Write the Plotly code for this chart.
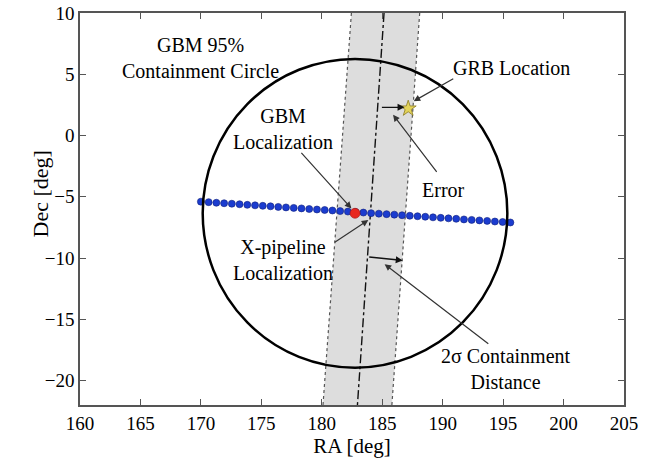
import plotly.graph_objects as go

# ---- data ----
scan_ra = [170.00, 170.64, 171.28, 171.92, 172.56, 173.20, 173.84, 174.48, 175.12, 175.76,
           176.40, 177.04, 177.68, 178.32, 178.96, 179.60, 180.24, 180.88, 181.52, 182.16,
           182.80, 183.44, 184.08, 184.72, 185.36, 186.00, 186.64, 187.28, 187.92, 188.56,
           189.20, 189.84, 190.48, 191.12, 191.76, 192.40, 193.04, 193.68, 194.32, 194.96,
           195.60]
scan_dec = [-5.40, -5.44, -5.49, -5.53, -5.57, -5.61, -5.66, -5.70, -5.74, -5.78,
            -5.83, -5.87, -5.91, -5.95, -6.00, -6.04, -6.08, -6.12, -6.17, -6.21,
            -6.25, -6.29, -6.34, -6.38, -6.42, -6.46, -6.51, -6.55, -6.59, -6.63,
            -6.68, -6.72, -6.76, -6.80, -6.85, -6.89, -6.93, -6.97, -7.02, -7.06,
            -7.10]

gbm_ra, gbm_dec = 182.75, -6.35
gbm_radius = 12.6
grb_ra, grb_dec = 187.15, 2.2

band_left_ra = [182.45, 180.10]
band_right_ra = [188.10, 185.80]
band_dec = [10.0, -22.0]
center_ra = [185.15, 182.95]

error_ra = [184.85, 186.85]
error_dec = [2.3, 2.3]
dist_ra = [183.8, 186.7]
dist_dec = [-9.9, -10.2]

x_ticks = [160, 165, 170, 175, 180, 185, 190, 195, 200, 205]
y_ticks = [10, 5, 0, -5, -10, -15, -20]

FONT = "Liberation Serif"

fig = go.Figure()

# shaded containment band
fig.add_trace(go.Scatter(
    x=band_left_ra + band_right_ra[::-1] + [band_left_ra[0]],
    y=band_dec + band_dec[::-1] + [band_dec[0]],
    mode="lines", fill="toself", fillcolor="#dddddd",
    line=dict(width=0), hoverinfo="skip", showlegend=False))
for edge in (band_left_ra, band_right_ra):
    fig.add_trace(go.Scatter(x=edge, y=band_dec, mode="lines",
                             line=dict(color="#555555", width=1.2, dash="dot"),
                             showlegend=False))
fig.add_trace(go.Scatter(x=center_ra, y=band_dec, mode="lines",
                         line=dict(color="#111111", width=1.4, dash="dashdot"),
                         showlegend=False))

# GBM containment circle
fig.add_shape(type="circle", xref="x", yref="y",
              x0=gbm_ra - gbm_radius, x1=gbm_ra + gbm_radius,
              y0=gbm_dec - gbm_radius, y1=gbm_dec + gbm_radius,
              line=dict(color="black", width=2.5), layer="above")

# scan points
fig.add_trace(go.Scatter(x=scan_ra, y=scan_dec, mode="markers",
                         marker=dict(color="#1b3ccf", size=7,
                                     line=dict(color="#10207a", width=0.6)),
                         showlegend=False))
# GBM localization
fig.add_trace(go.Scatter(x=[gbm_ra], y=[gbm_dec], mode="markers",
                         marker=dict(color="#e8281e", size=10,
                                     line=dict(color="#a01010", width=0.6)),
                         showlegend=False))
# GRB location
fig.add_trace(go.Scatter(x=[grb_ra], y=[grb_dec], mode="markers",
                         marker=dict(symbol="star", color="#e3d35a", size=12,
                                     line=dict(color="#8a7a20", width=0.8)),
                         showlegend=False))

# short arrows (error, 2 sigma distance)
for xs, ys in ((error_ra, error_dec), (dist_ra, dist_dec)):
    fig.add_annotation(x=xs[1], y=ys[1], ax=xs[0], ay=ys[0], xref="x", yref="y",
                       axref="x", ayref="y", text="", showarrow=True,
                       arrowhead=2, arrowsize=1, arrowwidth=1.4, arrowcolor="#111111")

# labels
labels = [
    ("GBM 95%<br>Containment Circle", 170.0, 6.35),
    ("GBM<br>Localization", 176.8, 0.5),
    ("Error", 190.1, -4.45),
    ("GRB Location", 195.7, 5.55),
    ("X-pipeline<br>Localization", 176.8, -10.2),
    ("2σ Containment<br>Distance", 195.2, -19.1),
]
for txt, x, y in labels:
    fig.add_annotation(x=x, y=y, xref="x", yref="y", text=txt, showarrow=False,
                       font=dict(family=FONT, size=20, color="black"))

# pointer arrows: (tail_ra, tail_dec, head_ra, head_dec)
pointers = [
    (178.2, -1.3, 182.45, -5.95),
    (189.6, -3.1, 185.9, 1.7),
    (191.0, 4.7, 187.6, 2.8),
    (180.95, -8.8, 183.85, -6.9),
    (193.9, -17.1, 185.2, -10.5),
]
for tx, ty, hx, hy in pointers:
    fig.add_annotation(x=hx, y=hy, ax=tx, ay=ty, xref="x", yref="y",
                       axref="x", ayref="y", text="", showarrow=True,
                       arrowhead=2, arrowsize=1.1, arrowwidth=1.2, arrowcolor="#333333")

# y axis title placed like the reference
fig.add_annotation(x=-55 / 544, y=(405 - 194) / 392, xref="paper", yref="paper",
                   text="Dec [deg]", textangle=-90, showarrow=False,
                   font=dict(family=FONT, size=22, color="black"))

axis_common = dict(showgrid=False, zeroline=False, showline=True, linecolor="#555555",
                   linewidth=1.5, mirror="ticks", ticks="inside", ticklen=6,
                   tickcolor="#555555", tickwidth=1, ticklabeloverflow="allow",
                   tickfont=dict(family=FONT, size=19, color="black"),
                   title_font=dict(family=FONT, size=21, color="black"))

fig.update_xaxes(range=[160, 205], tickvals=x_ticks, title_text="RA [deg]",
                 title_standoff=6, **axis_common)
fig.update_yaxes(range=[-22, 10], tickvals=y_ticks, **axis_common)

fig.update_layout(width=652, height=464, plot_bgcolor="white", paper_bgcolor="white",
                  margin=dict(l=80, r=28, t=13, b=59, autoexpand=False), showlegend=False)

fig.write_html("out.html", config={"displayModeBar": False},
               post_script="document.body.style.margin='0';document.body.style.overflow='hidden';")
